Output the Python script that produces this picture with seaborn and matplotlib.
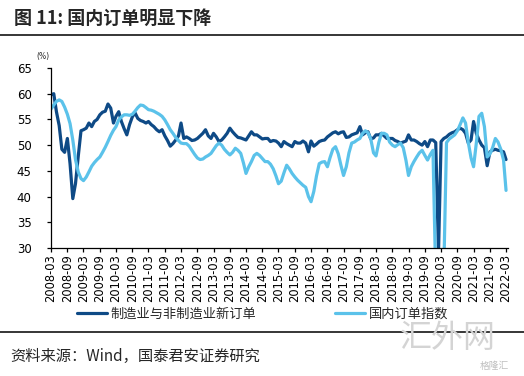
import pandas as pd
import matplotlib
matplotlib.use("Agg")
import matplotlib.pyplot as plt
from matplotlib.lines import Line2D
import seaborn as sns

# ==========================================================
# Data (monthly, 2008-03 .. 2022-03)
# ==========================================================

months = pd.date_range("2008-03-01", "2022-03-01", freq="MS")

new_orders = [
    59.8, 60.0, 56.5, 53.8, 49.2, 48.6, 51.3, 46.4, 39.6, 42.5,              # 2008
    47.8, 52.8, 53.0, 53.3, 54.3, 53.6, 54.6, 55.0, 55.9, 56.4, 56.6, 58.0,  # 2009
    57.2, 54.3, 55.6, 56.5, 54.6, 53.2, 52.0, 54.0, 55.5, 56.3, 55.2, 54.8,  # 2010
    54.6, 54.3, 54.6, 54.0, 53.6, 53.0, 52.6, 53.0, 51.8, 50.9, 49.8, 50.3,  # 2011
    51.0, 51.8, 54.3, 51.3, 51.6, 51.3, 50.9, 51.0, 51.3, 51.8, 52.3, 53.0,  # 2012
    51.8, 51.3, 52.3, 51.6, 50.7, 51.0, 51.6, 52.3, 53.3, 52.6, 52.0, 51.5,  # 2013
    51.4, 51.2, 51.0, 51.8, 52.6, 52.0, 52.0, 51.6, 51.2, 51.3, 51.3, 50.7,  # 2014
    50.9, 50.8, 50.4, 49.7, 50.7, 50.3, 50.0, 49.7, 50.7, 50.4, 50.4, 50.8,  # 2015
    50.4, 48.7, 50.8, 49.8, 50.2, 50.7, 50.9, 51.0, 51.6, 52.0, 52.4, 52.6,  # 2016
    52.2, 52.5, 52.6, 51.5, 51.6, 52.0, 52.2, 52.4, 53.6, 52.0, 52.4, 52.6,  # 2017
    51.2, 51.4, 52.0, 52.0, 52.3, 51.8, 51.3, 51.3, 51.3, 50.9, 50.7, 50.4,  # 2018
    50.6, 50.8, 52.0, 51.0, 51.0, 50.7, 50.3, 50.0, 50.7, 49.7, 51.0, 51.0,  # 2019
    50.5, 29.0, 50.7, 51.3, 51.6, 52.1, 52.4, 52.6, 53.0, 53.3, 53.0, 52.3,  # 2020
    50.4, 51.0, 54.6, 52.3, 51.0, 50.0, 49.5, 46.0, 48.7, 49.0, 49.2, 49.0,  # 2021
    48.9, 48.7, 47.2,                                                        # 2022
]

domestic_orders = [
    57.0, 57.8, 58.5, 58.8, 58.5, 57.4, 56.0, 54.2, 51.0, 47.2,              # 2008
    44.8, 43.5, 43.1, 43.8, 44.8, 45.9, 46.6, 47.2, 47.7, 48.6, 49.6, 50.7,  # 2009
    51.9, 52.9, 53.6, 54.9, 55.5, 55.9, 55.9, 55.8, 56.0, 56.6, 57.3, 57.8,  # 2010
    57.7, 57.3, 56.9, 56.8, 56.6, 56.3, 56.0, 55.6, 54.9, 54.0, 53.0, 52.3,  # 2011
    51.5, 50.9, 50.4, 50.3, 50.3, 49.8, 49.0, 48.2, 47.5, 47.2, 47.3, 47.7,  # 2012
    48.0, 48.4, 49.1, 49.9, 50.4, 50.0, 49.2, 48.6, 48.1, 48.6, 49.4, 49.0,  # 2013
    48.4, 46.5, 44.5, 45.8, 46.8, 48.0, 48.4, 48.0, 47.4, 46.8, 46.8, 46.3,  # 2014
    45.4, 44.0, 42.5, 43.0, 44.6, 46.1, 45.4, 44.5, 43.8, 43.2, 42.7, 42.2,  # 2015
    41.8, 40.0, 39.0, 41.0, 44.0, 46.4, 46.7, 46.8, 45.8, 47.6, 49.2, 49.7,  # 2016
    48.3, 46.0, 44.1, 45.8, 48.5, 50.4, 50.6, 51.0, 51.3, 52.3, 52.8, 52.4,  # 2017
    51.2, 48.5, 47.9, 50.5, 52.3, 52.3, 52.0, 50.6, 50.0, 49.7, 50.1, 50.4,  # 2018
    49.5, 47.0, 44.1, 45.8, 46.8, 47.7, 48.5, 49.0, 48.0, 47.1, 48.2, 49.0,  # 2019
    24.0, 18.0, 20.0, 26.0, 50.5, 51.2, 51.6, 52.0, 52.8, 54.0, 55.3, 54.3,  # 2020
    50.5, 47.5, 45.8, 50.4, 55.6, 56.2, 53.6, 47.7, 48.3, 49.5, 51.3, 50.6,  # 2021
    49.2, 47.1, 41.2,                                                        # 2022
]

series_names = ["制造业与非制造业新订单", "国内订单指数"]
colors = ["#0e4a86", "#5bc2ea"]

tick_dates = months[::6]
tick_labels = [d.strftime("%Y-%m") for d in tick_dates]
y_ticks = [30, 35, 40, 45, 50, 55, 60, 65]

df = pd.DataFrame({
    "date": list(months) * 2,
    "value": new_orders + domestic_orders,
    "series": [series_names[0]] * len(months) + [series_names[1]] * len(months),
})

# ==========================================================
# Plot
# ==========================================================

sns.set_theme(style="white")
cjk = ["Noto Sans CJK SC", "DejaVu Sans"]
plt.rcParams["font.family"] = ["DejaVu Sans", "Noto Sans CJK SC"]

W, H = 524, 376
fig = plt.figure(figsize=(W / 100, H / 100), dpi=100)
ax = fig.add_axes([51 / W, (H - 248) / H, 457 / W, (248 - 68) / H])

sns.lineplot(
    data=df, x="date", y="value", hue="series",
    palette=colors, linewidth=2.3, legend=False, ax=ax
)

ax.set_ylim(30, 65)
ax.set_xlim(months[0], months[-1] + pd.Timedelta(days=22))
ax.set_yticks(y_ticks)
ax.set_xticks(tick_dates)
ax.set_xticklabels(tick_labels, rotation=90, fontsize=8.3)
ax.tick_params(axis="y", labelsize=8.5, length=3, width=0.9, pad=11,
               direction="out", left=True, colors="black")
ax.tick_params(axis="x", length=3, width=0.9, pad=1.5,
               direction="out", bottom=True, colors="black")
ax.set_xlabel("")
ax.set_ylabel("")
sns.despine(ax=ax)
for side in ["left", "bottom"]:
    ax.spines[side].set_color("black")
    ax.spines[side].set_linewidth(0.9)

fig.text(43 / W, 1 - 56 / H, "(%)", fontsize=5.5, ha="center", va="center")

# legend, two entries placed apart
lines = ax.get_lines()
fig.legend([lines[0]], [series_names[0]], loc="center left",
           bbox_to_anchor=(77 / W, 1 - 314 / H), frameon=False,
           handlelength=2.3, handletextpad=0.25,
           borderpad=0, borderaxespad=0, prop={"family": cjk, "size": 9.5})
fig.legend([lines[1]], [series_names[1]], loc="center left",
           bbox_to_anchor=(335 / W, 1 - 314 / H), frameon=False,
           handlelength=2.3, handletextpad=0.25,
           borderpad=0, borderaxespad=0, prop={"family": cjk, "size": 9.5})

# title, rules, source
fig.text(14 / W, 1 - 18 / H, "图 11: 国内订单明显下降", fontsize=13,
         fontweight="bold", va="center", family=cjk)
fig.add_artist(Line2D([0, 1], [1 - 34.5 / H] * 2, transform=fig.transFigure,
                      color="black", linewidth=1.1))
fig.add_artist(Line2D([0, 1], [1 - 331.5 / H] * 2, transform=fig.transFigure,
                      color="black", linewidth=1.1))
fig.text(10 / W, 1 - 356 / H, "资料来源：Wind，国泰君安证券研究",
         fontsize=11, va="center", family=cjk)

# watermark
fig.text(448 / W, 1 - 338 / H, "汇外网", fontsize=23, color="#d4d4d4",
         ha="center", va="center", family=cjk)
fig.text(494 / W, 1 - 366 / H, "格隆汇", fontsize=7, color="#c0c0c0",
         ha="center", va="center", family=cjk)

fig.savefig("out.png", dpi=100)
